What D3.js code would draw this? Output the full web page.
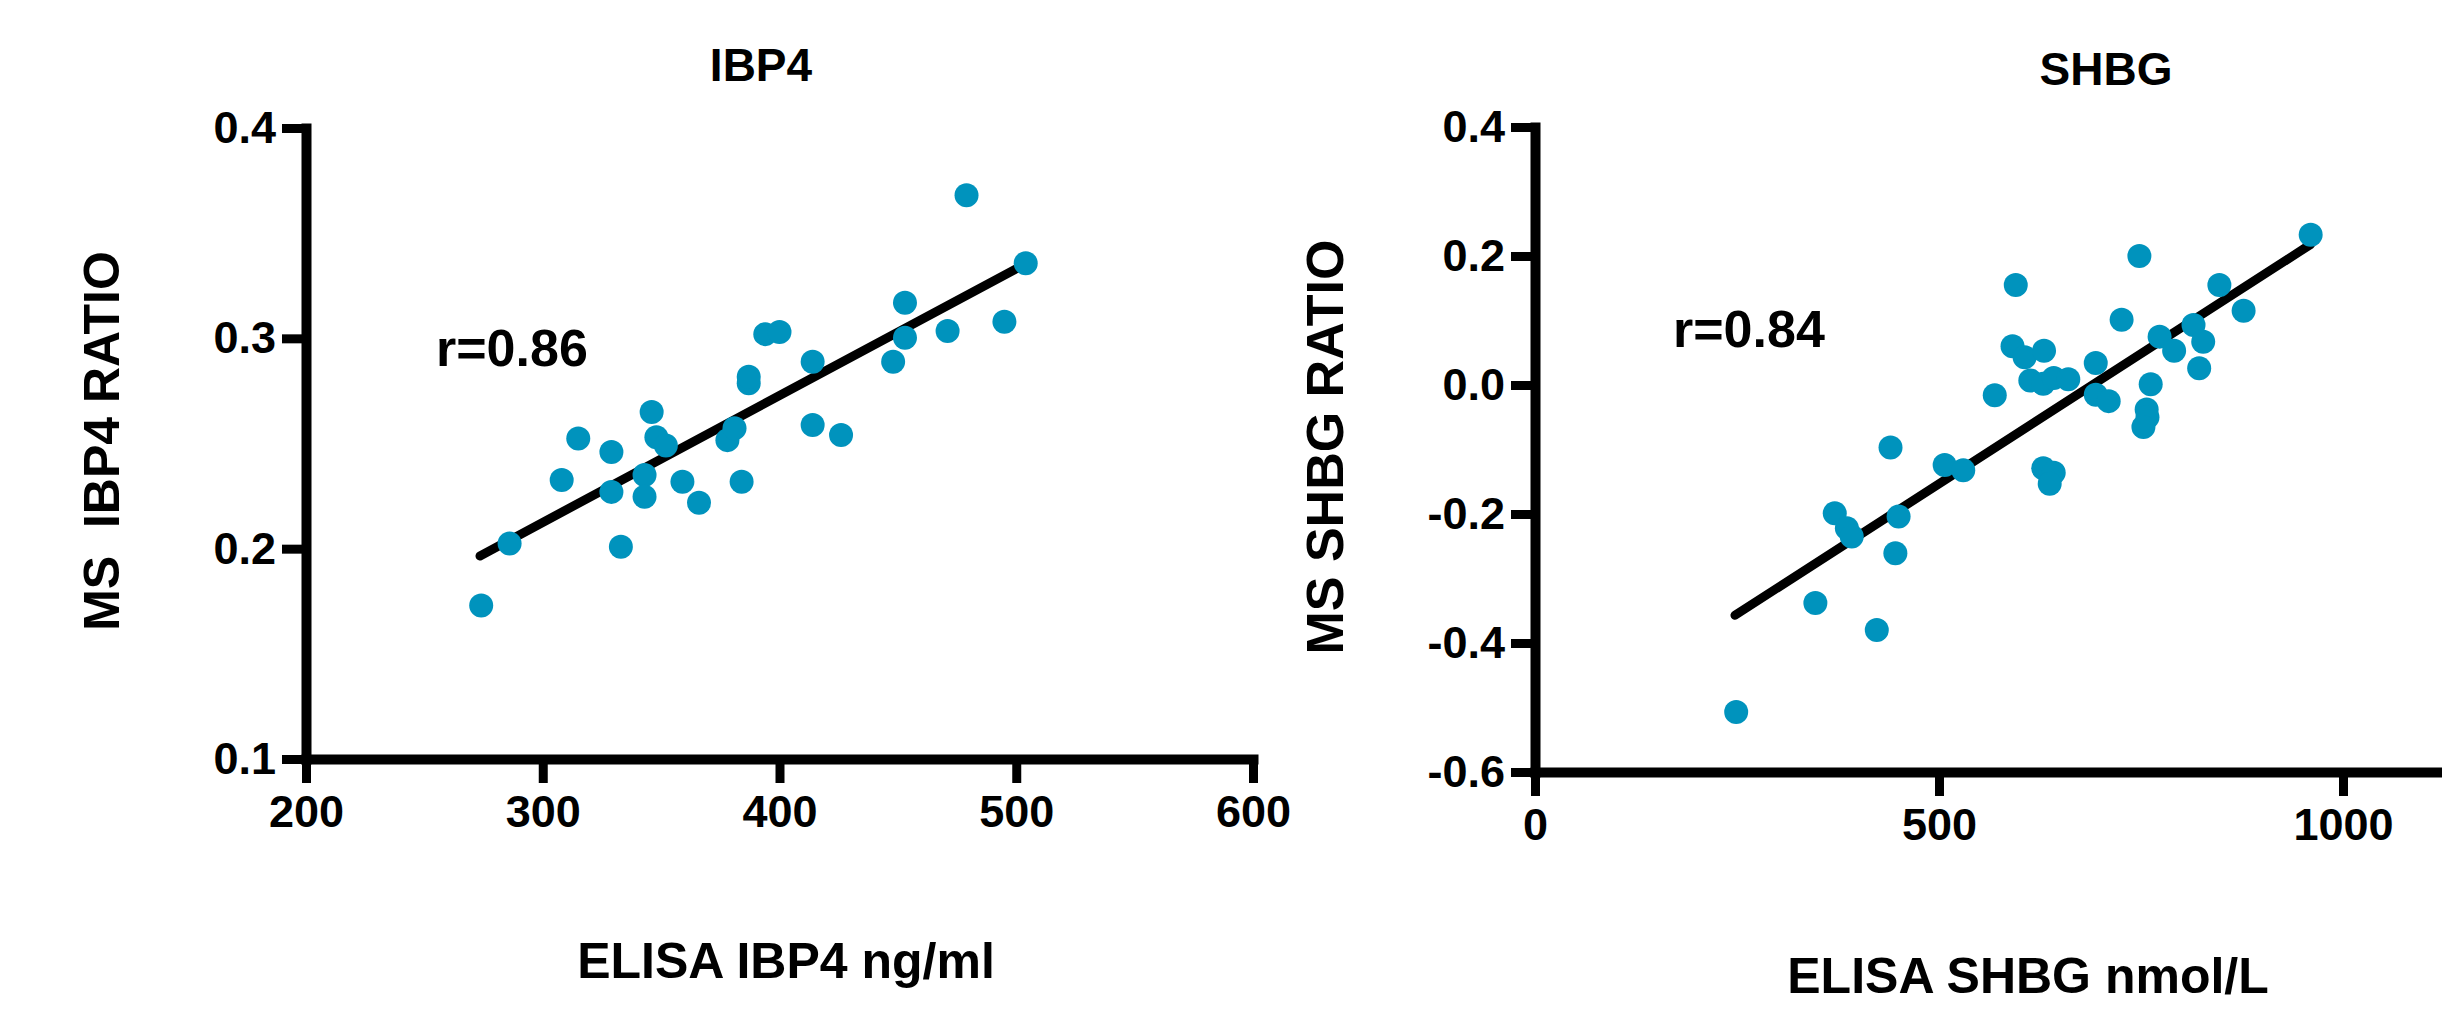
<!DOCTYPE html>
<html>
<head>
  <meta charset="UTF-8">
  <style>
    body {
      margin: 0;
      padding: 0;
      background-color: #ffffff;
    }
    svg {
      display: block;
      font-family: Arial, "Liberation Sans", sans-serif;
      font-weight: bold;
    }
    .axis text {
      font-size: 45px;
      font-weight: bold;
      fill: #000;
    }
  </style>
</head>
<body>
<svg id="chart"></svg>
<script src="https://d3js.org/d3.v7.min.js"></script>
<script>
// IBP4 panel: ELISA (ng/ml) vs MS ratio
let ibp4X = [274, 286, 308, 315, 329, 329, 333, 343, 343, 346, 348, 352, 359, 366, 378, 381,
             384, 387, 387, 394, 400, 414, 414, 426, 448, 453, 453, 471, 479, 495, 504];
let ibp4Y = [0.173, 0.2025, 0.2326, 0.2524, 0.246, 0.227, 0.2009, 0.235, 0.2247, 0.265, 0.253,
             0.249, 0.2318, 0.2218, 0.2516, 0.2572, 0.2318, 0.2786, 0.2817, 0.302, 0.303, 0.2889,
             0.2588, 0.254, 0.2889, 0.3169, 0.3003, 0.3035, 0.368, 0.3079, 0.3357];
let ibp4Fit = [[273.5, 0.1965], [504, 0.3355]];
let ibp4XTicks = [200, 300, 400, 500, 600];
let ibp4YTicks = [0.1, 0.2, 0.3, 0.4];

// SHBG panel: ELISA (nmol/L) vs MS ratio
let shbgX = [249, 347, 423, 371, 386, 392, 440, 450, 446, 507, 530, 569, 595, 591, 606, 613,
             629, 642, 660, 630, 629, 642, 637, 694, 694, 710, 726, 748, 762, 757, 758, 753,
             773, 791, 815, 827, 822, 847, 877, 960];
let shbgY = [-0.507, -0.338, -0.380, -0.199, -0.222, -0.235, -0.097, -0.204, -0.261, -0.124,
             -0.132, -0.016, 0.155, 0.060, 0.043, 0.007, 0.002, 0.011, 0.009, 0.053, -0.129,
             -0.136, -0.153, 0.034, -0.015, -0.025, 0.101, 0.200, 0.001, -0.038, -0.050, -0.065,
             0.075, 0.053, 0.093, 0.067, 0.026, 0.155, 0.115, 0.233];
let shbgFit = [[247.5, -0.357], [960, 0.218]];
let shbgXTicks = [0, 500, 1000];
let shbgYTicks = [-0.6, -0.4, -0.2, 0.0, 0.2, 0.4];

let width = 2442, height = 1009;
let dotColor = "#0093bd";

let svg = d3.select("#chart")
    .attr("width", width)
    .attr("height", height);

// plain hyphen for negatives, like the original
let fmtY = d => d3.format(".1f")(d).replace("\u2212", "-");

function drawPanel(p) {
    let x = d3.scaleLinear().domain(p.xDomain).range(p.xRange);
    let y = d3.scaleLinear().domain(p.yDomain).range(p.yRange);
    let g = svg.append("g");

    // axes
    let xAxis = g.append("g")
        .attr("class", "axis")
        .attr("transform", `translate(0,${p.yRange[0]})`)
        .call(d3.axisBottom(x).tickValues(p.xTicks).tickSize(24).tickSizeOuter(0)
            .tickPadding(12).tickFormat(d3.format("d")));
    let yAxis = g.append("g")
        .attr("class", "axis")
        .attr("transform", `translate(${p.xRange[0]},0)`)
        .call(d3.axisLeft(y).tickValues(p.yTicks).tickSize(24).tickSizeOuter(0)
            .tickPadding(6).tickFormat(fmtY));

    [xAxis, yAxis].forEach(a => {
        a.select(".domain").attr("stroke", "#000").attr("stroke-width", 10)
            .attr("stroke-linecap", "square");
        a.selectAll(".tick line").attr("stroke", "#000").attr("stroke-width", 9);
    });

    // regression line
    g.append("line")
        .attr("x1", x(p.fit[0][0])).attr("y1", y(p.fit[0][1]))
        .attr("x2", x(p.fit[1][0])).attr("y2", y(p.fit[1][1]))
        .attr("stroke", "#000")
        .attr("stroke-width", 9)
        .attr("stroke-linecap", "round");

    // points
    g.selectAll("circle")
        .data(p.xs.map((v, i) => [v, p.ys[i]]))
        .enter()
        .append("circle")
        .attr("cx", d => x(d[0]))
        .attr("cy", d => y(d[1]))
        .attr("r", 12)
        .attr("fill", dotColor);

    // texts
    g.append("text")
        .attr("x", p.titlePos[0]).attr("y", p.titlePos[1])
        .attr("text-anchor", "middle")
        .style("font-size", "46px")
        .text(p.title);

    g.append("text")
        .attr("x", p.rPos[0]).attr("y", p.rPos[1])
        .style("font-size", "52px")
        .text(p.rText);

    g.append("text")
        .attr("x", p.xLabelPos[0]).attr("y", p.xLabelPos[1])
        .attr("text-anchor", "middle")
        .style("font-size", "50px")
        .text(p.xLabel);

    g.append("text")
        .attr("transform", `translate(${p.yLabelPos[0]},${p.yLabelPos[1]}) rotate(-90)`)
        .attr("text-anchor", "middle")
        .style("font-size", p.yLabelSize + "px")
        .style("white-space", "pre")
        .text(p.yLabel);
}

drawPanel({
    xs: ibp4X, ys: ibp4Y, fit: ibp4Fit,
    xDomain: [200, 600], xRange: [306, 1253],
    yDomain: [0.1, 0.4], yRange: [759, 128],
    xTicks: ibp4XTicks, yTicks: ibp4YTicks,
    title: "IBP4", titlePos: [761, 81],
    rText: "r=0.86", rPos: [436, 366],
    xLabel: "ELISA IBP4 ng/ml", xLabelPos: [786, 978],
    yLabel: "MS  IBP4 RATIO", yLabelPos: [119, 441], yLabelSize: 50
});

drawPanel({
    xs: shbgX, ys: shbgY, fit: shbgFit,
    xDomain: [0, 1125], xRange: [1535, 2444],
    yDomain: [-0.6, 0.4], yRange: [772, 127],
    xTicks: shbgXTicks, yTicks: shbgYTicks,
    title: "SHBG", titlePos: [2106, 85],
    rText: "r=0.84", rPos: [1673, 347],
    xLabel: "ELISA SHBG nmol/L", xLabelPos: [2028, 993],
    yLabel: "MS SHBG RATIO", yLabelPos: [1343, 447], yLabelSize: 52
});
</script>
</body>
</html>
